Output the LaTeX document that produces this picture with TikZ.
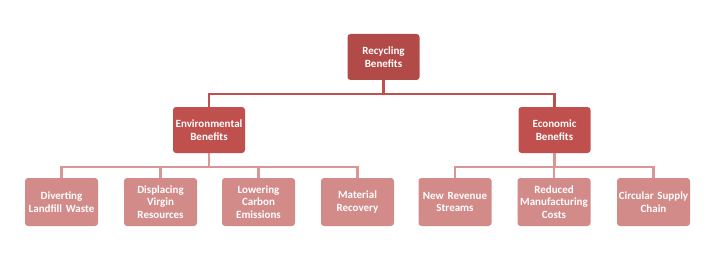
\documentclass[tikz,border=0pt]{standalone}
\usepackage{fontspec}
\setmainfont{Carlito}
\definecolor{rootc}{HTML}{B24A48}
\definecolor{midc}{HTML}{C0504D}
\definecolor{leafc}{HTML}{D28B89}
\definecolor{lineA}{HTML}{C0504D}
\definecolor{lineB}{HTML}{D99694}
\begin{document}
\begin{tikzpicture}[x=1pt,y=-1pt,
  box/.style={rounded corners=3pt, text=white, align=center, font=\fontsize{11}{12.8}\selectfont\bfseries, inner sep=0pt, minimum width=72pt, minimum height=46pt, text width=72pt},
  rootbox/.style={box, fill=rootc},
  midbox/.style={box, fill=midc},
  leafbox/.style={box, fill=leafc, minimum width=73pt, minimum height=48pt},
  connA/.style={draw=lineA, line width=2.2pt},
  connB/.style={draw=lineB, line width=2.2pt}]
\useasboundingbox (0,0) rectangle (723,254);
\node[rootbox] (root) at (383.5,57) {Recycling\\Benefits};
\node[midbox] (env) at (209,130) {Environmental\\Benefits};
\node[midbox] (eco) at (554.5,130) {Economic\\Benefits};
\node[leafbox] (l1) at (61.5,202) {Diverting\\Landfill Waste};
\node[leafbox] (l2) at (160.5,202) {Displacing\\Virgin\\Resources};
\node[leafbox] (l3) at (258.5,202) {Lowering\\Carbon\\Emissions};
\node[leafbox] (l4) at (357.5,202) {Material\\Recovery};
\node[leafbox] (l5) at (455,202) {New Revenue\\Streams};
\node[leafbox] (l6) at (554,202) {Reduced\\Manufacturing\\Costs};
\node[leafbox] (l7) at (653.5,202) {Circular Supply\\Chain};
\draw[connA] (root.south) -- ++(0,14) -| (env.north);
\draw[connA] (root.south) -- ++(0,14) -| (eco.north);
\foreach \l in {l1,l2,l3,l4}
  \draw[connB] (env.south) -- ++(0,14) -| (\l.north);
\foreach \l in {l5,l6,l7}
  \draw[connB] (eco.south) -- ++(0,14) -| (\l.north);
\end{tikzpicture}
\end{document}
